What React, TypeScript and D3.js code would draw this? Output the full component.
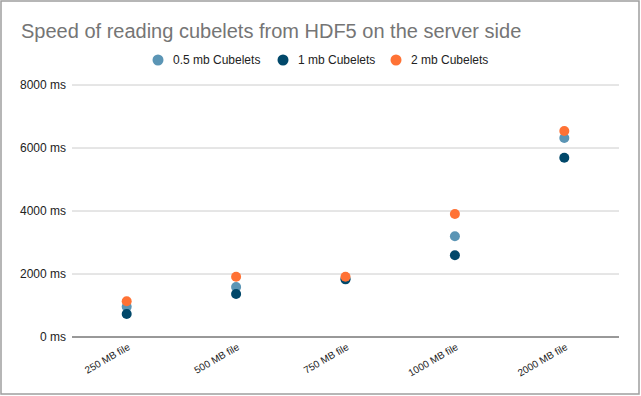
import React, { useEffect, useRef } from 'react';
import * as d3 from 'd3';

// data
const categories = ['250 MB file', '500 MB file', '750 MB file', '1000 MB file', '2000 MB file'];
const halfMb = [960, 1590, 1850, 3200, 6320];
const oneMb = [730, 1365, 1830, 2595, 5690];
const twoMb = [1135, 1915, 1915, 3905, 6540];
const seriesNames = ['0.5 mb Cubelets', '1 mb Cubelets', '2 mb Cubelets'];
const yTicks = [0, 2000, 4000, 6000, 8000];

const colors = ['#5b95b5', '#01486a', '#ff7235'];

export default function App() {
  const svgRef = useRef<SVGSVGElement>(null);

  useEffect(() => {
    const width = 641;
    const height = 396;
    const margin = { top: 85, right: 22, bottom: 59, left: 72 };

    const root = d3.select(svgRef.current);
    root.selectAll('*').remove();
    root.attr('width', width).attr('height', height);

    root
      .append('rect')
      .attr('x', 1)
      .attr('y', 1)
      .attr('width', 638)
      .attr('height', 393)
      .attr('fill', '#fff')
      .attr('stroke', '#9e9e9e')
      .attr('stroke-width', 1.5);

    const x = d3
      .scaleBand()
      .domain(categories)
      .range([margin.left, width - margin.right]);
    const y = d3
      .scaleLinear()
      .domain([0, 8000])
      .range([height - margin.bottom, margin.top]);

    // title
    root
      .append('text')
      .attr('x', 21)
      .attr('y', 38)
      .attr('font-family', 'Liberation Sans, Arial, sans-serif')
      .attr('font-size', 20)
      .attr('fill', '#757575')
      .text('Speed of reading cubelets from HDF5 on the server side');

    // legend
    const legendX = [158, 283, 396];
    const legend = root
      .append('g')
      .attr('font-family', 'Liberation Sans, Arial, sans-serif')
      .attr('font-size', 12)
      .attr('fill', '#222');
    seriesNames.forEach((name, i) => {
      legend
        .append('circle')
        .attr('cx', legendX[i])
        .attr('cy', 60)
        .attr('r', 5.5)
        .attr('fill', colors[i]);
      legend
        .append('text')
        .attr('x', legendX[i] + 15)
        .attr('y', 64)
        .text(name);
    });

    // gridlines + y labels
    const grid = root.append('g');
    yTicks.forEach((t) => {
      grid
        .append('line')
        .attr('x1', margin.left)
        .attr('x2', width - margin.right)
        .attr('y1', y(t))
        .attr('y2', y(t))
        .attr('stroke', t === 0 ? '#333' : '#ccc')
        .attr('stroke-width', 1);
      grid
        .append('text')
        .attr('x', 66)
        .attr('y', y(t) + 4)
        .attr('text-anchor', 'end')
        .attr('font-family', 'Liberation Sans, Arial, sans-serif')
        .attr('font-size', 12)
        .attr('fill', '#222')
        .text(`${t} ms`);
    });

    // x labels
    root
      .append('g')
      .selectAll('text')
      .data(categories)
      .join('text')
      .attr('transform', (d) => `translate(${x(d)! + x.bandwidth() / 2 + 4},${height - margin.bottom + 12}) rotate(-30)`)
      .attr('text-anchor', 'end')
      .attr('font-family', 'Liberation Sans, Arial, sans-serif')
      .attr('font-size', 10)
      .attr('fill', '#222')
      .text((d) => d);

    // points
    const all = [halfMb, oneMb, twoMb];
    all.forEach((vals, i) => {
      root
        .append('g')
        .selectAll('circle')
        .data(vals)
        .join('circle')
        .attr('cx', (_, j) => x(categories[j])! + x.bandwidth() / 2)
        .attr('cy', (d) => y(d))
        .attr('r', 5)
        .attr('fill', colors[i]);
    });
  }, []);

  return <svg ref={svgRef} style={{ position: 'absolute', left: 0, top: 0 }}></svg>;
}
